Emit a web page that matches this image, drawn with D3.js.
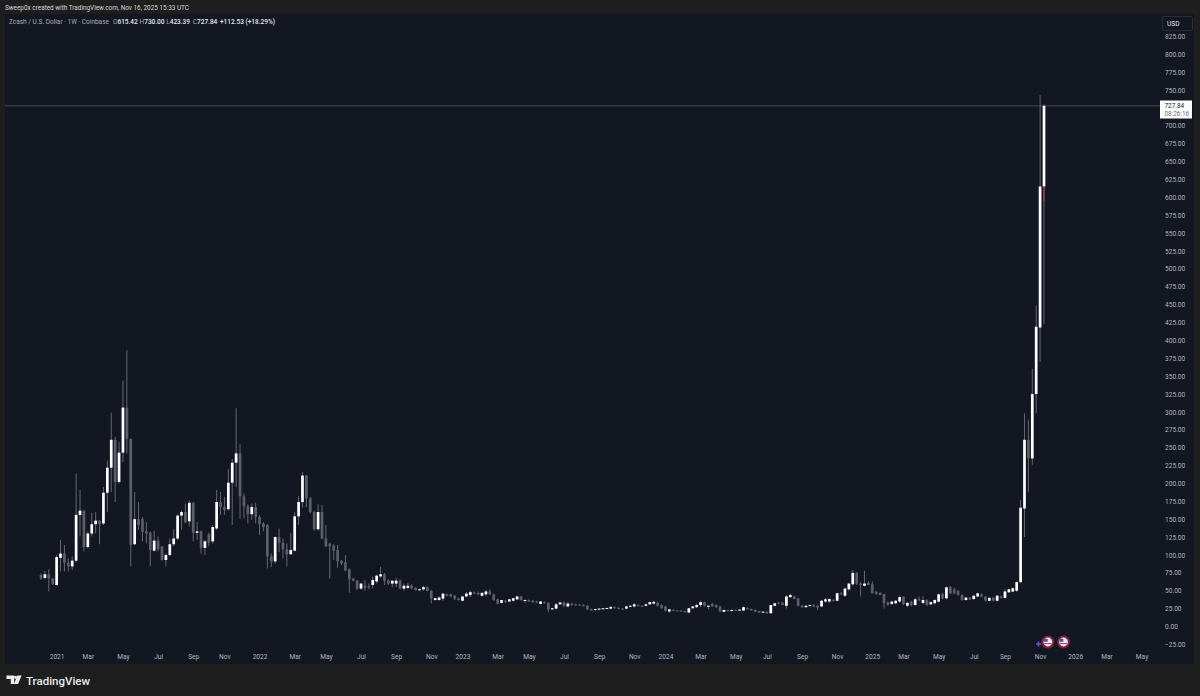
<!DOCTYPE html>
<html><head><meta charset="utf-8">
<script src="https://cdnjs.cloudflare.com/ajax/libs/d3/7.8.5/d3.min.js"></script>
<style>html,body{margin:0;padding:0;background:#1e1e1e;overflow:hidden}svg{display:block;font-family:Roboto,"Liberation Sans",sans-serif}</style>
</head><body><svg id="c" width="1200" height="696"></svg>
<script>
const opens=[72,68,73,67,58,96,102,89,84,92,156,162,111,130,143,148,144,187,222,261,202,243,306,262,115,150,150,133,131,106,120,112,93,100,115,123,155,160,147,173,131,133,110,129,119,137,174,167,164,201,229,242,182,168,157,167,153,144,142,98,91,125,117,108,101,106,154,174,211,179,160,136,160,123,116,113,107,92,90,80,67,64,53,57,56,58,63,70,73,64,60,60,64,53,54,57,54,51,52,55,50,37,37,39,45,45,43,39,36,42,44,47.5,47,43,45,49,45,38,33,36,35,36,38,42,36,37,36,35,31.5,34,33,24,25,31,33.5,28,32,31,30.5,30,29,24,23.6,24,24.5,25.5,25,27,26,25,25,28,28,30,29,29,31,32,33,30,28,21,23,22.7,22.2,21.7,19.5,25.5,27,30,34,28,31.5,30,27.8,20.5,23,22,23,22.3,22.3,25.4,24.5,23,21.7,19.4,20.8,18.5,29,33.4,33.4,29,41,42,39,29,27,28.7,30,29,28,35,35,37,36,46.4,43,52,59,75,60,57,61,59,48.8,47,45.5,34,31.5,32.5,35,41.8,29,34.8,30,38,33,37,31,32.5,34.8,45,39.4,54.8,52,50,44,37,40.4,38.5,42,45,41.8,36,40.4,36,42,40,47.8,48.8,50,62,165,261,235,325,418,615];
const highs=[74,78,80,68,100,121,114,95,98,214,191,162,133,159,160,149,195,232,299,265,258,344,386,263,188,174,153,146,133,134,126,112,102,123,136,157,162,172,176,174,146,134,121,131,142,191,188,181,220,234,305,255,186,171,172,173,156,146,143,102,126,137,123,116,131,160,182,216,212,181,162,171,170,142,117,115,114,93,100,81,68,65,61,65,60,70,73,83,75,66,65,68,66,60,61,59,55,53,57,56,51,40,42,46,46,46,44,40,42,48,50,49,49,48,51,52,46,39,37,37,39,40,43,43,38,38,37,36,35,35,34,26,33,35,35,34,33,32,31,31,30,25,24.5,25.5,26,26.5,28,28,27,26,29,30,33,31,30,32,35,36,35,31,29,24,24,23,23,22,26,28.5,32,36,35,30,33,31,29,24,24,24,24,24,28,27,25,24,22,21,21,30,33,34,34,44,46,43,40,30,30,31,31,30,37,40,39,38,47,48,54,61,79,76,62,78,63,63,49,48,46,35,36,37,43,42,34,36,40,42,42,38,35,38,46,47,55.7,56.7,54.3,51,45,41,41,44,47,46,42,41,41,44,43,52,53,55,63,177,298,289,360,449,743,730];
const lows=[65,66,49,58,57,77,77,77,79,90,126,105,109,126,130,115,142,160,188,174,200,230,242,84,114,135,119,116,84,105,105,92,84,98,112,121,135,144,140,119,121,102,100,112,116,135,156,156,162,142,195,150,151,144,149,144,128,133,81,83,88,104,95,84,100,105,142,166,167,158,134,134,122,111,67,93,82,86,77,47,63,51,51,50,52,53,60,68,58,58,55,55,52,50,52,52,50,50,50,49,32,36,36,36,42,41,37,36,35,41,41,45,44,42,42,44,36,31,32,33,34,35,37,36,33,34,33,33,31,32,20,23,24,30,27,27,29,29,29,28,23,22,22,23,24,25,24,25,24,24,24,27,27,28,27,28,30,31,28,25,21,19,22,21,21,19,19,25,26,27,28,24,27,26,20,20,21,21,21.5,22,22,24,22,20,19,19,18,18,28,31,30,25,40,38,28,26,26,28,27,23,27,33,33,35,35,44,41,50,57,58,42,56,58,46,44,44,25,29,30,31,33,30,27,28,29,35,31,29,30,31,34,38,38,45,45,43,36,36,37,37,41,41,35,35,35,35,39,39,47,48,48,61,125,188,226,298,370,423];
const closes=[67,73,67,59,97,102,89,84,92,156,162,111,130,143,148,143,187,222,261,202,243,306,262,114,150,142,132,130,107,120,108,93,100,115,123,155,160,146,173,131,133,110,119,117,139,174,167,163,201,229,242,182,168,157,167,153,143,139,98,91,125,117,108,101,107,154,174,211,179,160,136,160,123,112,112,106,91,88,78,66,64,53,60,54,55,65,71,73,64,60,64,64,53,57,57,53,51,52,55,50,39,39.5,40.5,46,43,42,39,37,42,46,48,46.5,45,47,49,45,37,32,37,35,38,39.5,42,37,37,35,34,34,35,33,24,25.5,31,33.5,29,32,30,30,29.5,29,24,23,24.5,25,25.5,25.8,27.5,26,25,24.5,28,29,31,29,28,31,34,34.5,29,25.5,22,24,22.5,21.5,21.5,20,25.5,28,30,34,29,29,28,27,21,23,22,23,22,23.6,27,24.5,22.5,20.8,19.4,20.8,18.5,30,32.4,32,30,42,44,38.5,29,27,29,30,28,26.5,36,38,38.5,36,46.5,45,53,60,75,60,58,60,58,46.5,45.5,44,32.5,30,34.8,36,41,31.5,33,30,38,37,37,30,34,37,45,39.4,54.8,46.4,46.4,44,37,40.4,38,43,46.4,41.8,36.2,40,36,43,40,49,52,53.4,62,166,261,235,325,419,615,727.84];
const priceTicks=[-25,0,25,50,75,100,125,150,175,200,225,250,275,300,325,350,375,400,425,450,475,500,525,550,575,600,625,650,675,700,750,775,800,825];
const timeDates=["2021-01-04","2021-03-01","2021-05-03","2021-07-05","2021-09-06","2021-11-01","2022-01-03","2022-03-07","2022-05-02","2022-07-04","2022-09-05","2022-11-07","2023-01-02","2023-03-06","2023-05-01","2023-07-03","2023-09-04","2023-11-06","2024-01-01","2024-03-04","2024-05-06","2024-07-01","2024-09-02","2024-11-04","2025-01-06","2025-03-03","2025-05-05","2025-07-07","2025-09-01","2025-11-03","2026-01-05","2026-03-02","2026-05-04"];
const timeLabels=["2021","Mar","May","Jul","Sep","Nov","2022","Mar","May","Jul","Sep","Nov","2023","Mar","May","Jul","Sep","Nov","2024","Mar","May","Jul","Sep","Nov","2025","Mar","May","Jul","Sep","Nov","2026","Mar","May"];
const firstWeek="2020-12-07", lastWeek="2025-11-10";
const eventWeeks=["2025-11-17","2025-12-15"];
const lastPrice=727.84, lastCountdown="08:26:16";
const headerText="Sweep0x created with TradingView.com, Nov 16, 2025 15:33 UTC";
const legendName="Zcash / U.S. Dollar · 1W · Coinbase";
const legendParts=[["O","615.42"],["H","730.00"],["L","423.39"],["C","727.84"]];
const legendChange="+112.53 (+18.29%)";

const W=1200,H=696,L=5,T=14,R=1194,B=664;
const svg=d3.select("#c");
const parse=d3.utcParse("%Y-%m-%d");
const x=d3.scaleUtc().domain([parse(firstWeek),parse(lastWeek)]).range([41,1044]);
const y=d3.scaleLinear().domain([0,750]).range([626.5,90]);
const idx=d3.range(opens.length);
const dateAt=i=>d3.utcWeek.offset(parse(firstWeek),i);

svg.append("rect").attr("width",W).attr("height",H).attr("fill","#1e1e1e");
svg.append("rect").attr("x",L).attr("y",T).attr("width",R-L).attr("height",B-T).attr("fill","#131722");
svg.append("text").attr("x",5).attr("y",9.5).attr("fill","#d6d6d6").attr("font-size",6.4).text(headerText);

// price axis
const yAxis=d3.axisRight(y).tickValues(priceTicks).tickSize(0).tickPadding(0).tickFormat(d3.format(".2f"));
const gy=svg.append("g").attr("transform","translate(1165,0)").call(yAxis);
gy.select(".domain").remove();
gy.selectAll("text").attr("fill","#b2b5be").attr("font-size",6.6).attr("font-family","Roboto,sans-serif");

// time axis
const xAxis=d3.axisBottom(x).tickValues(timeDates.map(parse)).tickSize(0).tickPadding(0).tickFormat((d,i)=>timeLabels[i]);
const gx=svg.append("g").attr("transform","translate(0,654)").call(xAxis);
gx.select(".domain").remove();
gx.selectAll("text").attr("fill","#b2b5be").attr("font-size",6.6).attr("font-family","Roboto,sans-serif");

// last price line
svg.append("line").attr("x1",L).attr("x2",1160).attr("y1",y(lastPrice)).attr("y2",y(lastPrice)).attr("stroke","#787b86").attr("stroke-width",.5);

// candles
const up=i=>closes[i]>=opens[i];
const c=svg.append("g");
c.selectAll("line.w").data(idx).join("line").attr("class","w")
 .attr("x1",i=>x(dateAt(i))).attr("x2",i=>x(dateAt(i)))
 .attr("y1",i=>y(highs[i])).attr("y2",i=>y(lows[i]))
 .attr("stroke","#6d7078").attr("stroke-width",.9);
c.selectAll("rect.b").data(idx).join("rect").attr("class","b")
 .attr("x",i=>x(dateAt(i))-1.35).attr("width",2.7)
 .attr("y",i=>y(Math.max(opens[i],closes[i])))
 .attr("height",i=>Math.max(1,Math.abs(y(opens[i])-y(closes[i]))))
 .attr("fill",i=>up(i)?"#ffffff":"#5c5f67");
// red part of the last wick
const li=opens.length-1;
c.append("line").attr("x1",x(dateAt(li))).attr("x2",x(dateAt(li))).attr("y1",y(opens[li])).attr("y2",y(595)).attr("stroke","#a8324f").attr("stroke-width",1.6);

// price label
svg.append("rect").attr("x",1160).attr("y",100.5).attr("width",32).attr("height",18).attr("fill","#fff");
svg.append("text").attr("x",1164.5).attr("y",107.5).attr("fill","#131722").attr("font-size",6.4).text(d3.format(".2f")(lastPrice));
svg.append("text").attr("x",1164.5).attr("y",116).attr("fill","#6a6d78").attr("font-size",6.4).text(lastCountdown);

// USD box
svg.append("rect").attr("x",1162.5).attr("y",16.5).attr("width",30).attr("height",14).attr("rx",1.5).attr("fill","#131722").attr("stroke","#3a3e4a").attr("stroke-width",.6);
svg.append("text").attr("x",1167).attr("y",26).attr("fill","#e0e3ea").attr("font-size",6.6).text("USD");

// legend
const legY=23.5, legSize=6.5;
svg.append("text").attr("x",9).attr("y",legY).attr("font-size",legSize).attr("fill","#a9acb6").text(legendName);
legendParts.forEach((p,i)=>{
  const t=svg.append("text").attr("x",113+i*26.6).attr("y",legY).attr("font-size",legSize);
  t.append("tspan").attr("fill","#a9acb6").text(p[0]);
  t.append("tspan").attr("fill","#e6e7ea").attr("font-weight",500).text(p[1]);
});
svg.append("text").attr("x",220).attr("y",legY).attr("font-size",legSize).attr("fill","#e6e7ea").attr("font-weight",500).text(legendChange);

// event flags
svg.append("path").attr("d",d3.symbol(d3.symbolCross,14)()).attr("transform","translate(1038.5,644)").attr("fill","#6a4fd0");
const ev=svg.append("g").selectAll("g").data(eventWeeks).join("g").attr("transform",d=>`translate(${x(parse(d))},642)`);
ev.append("circle").attr("r",6.5).attr("fill","#8a1f3d");
ev.append("circle").attr("r",4.4).attr("fill","#e8ecf2");
ev.append("rect").attr("x",-4).attr("y",-3.2).attr("width",3.8).attr("height",3).attr("fill","#3b5bb5");
ev.append("rect").attr("x",-3.8).attr("y",1).attr("width",7.6).attr("height",1.1).attr("fill","#c8425c");

// brand
const brand=svg.append("g").attr("transform","translate(6.5,675.5) scale(.86)");
brand.append("path").attr("d","M0 0H9V10H5V4H0Z M12.5 0H17.5L13.5 10H8.8Z").attr("fill","#eceff2");
brand.append("circle").attr("cx",10.5).attr("cy",2).attr("r",1.8).attr("fill","#eceff2");
svg.append("text").attr("x",26).attr("y",684.5).attr("fill","#e8e8e8").attr("font-size",11.5).attr("font-weight",500).attr("font-family","Roboto,sans-serif").text("TradingView");
</script></body></html>
